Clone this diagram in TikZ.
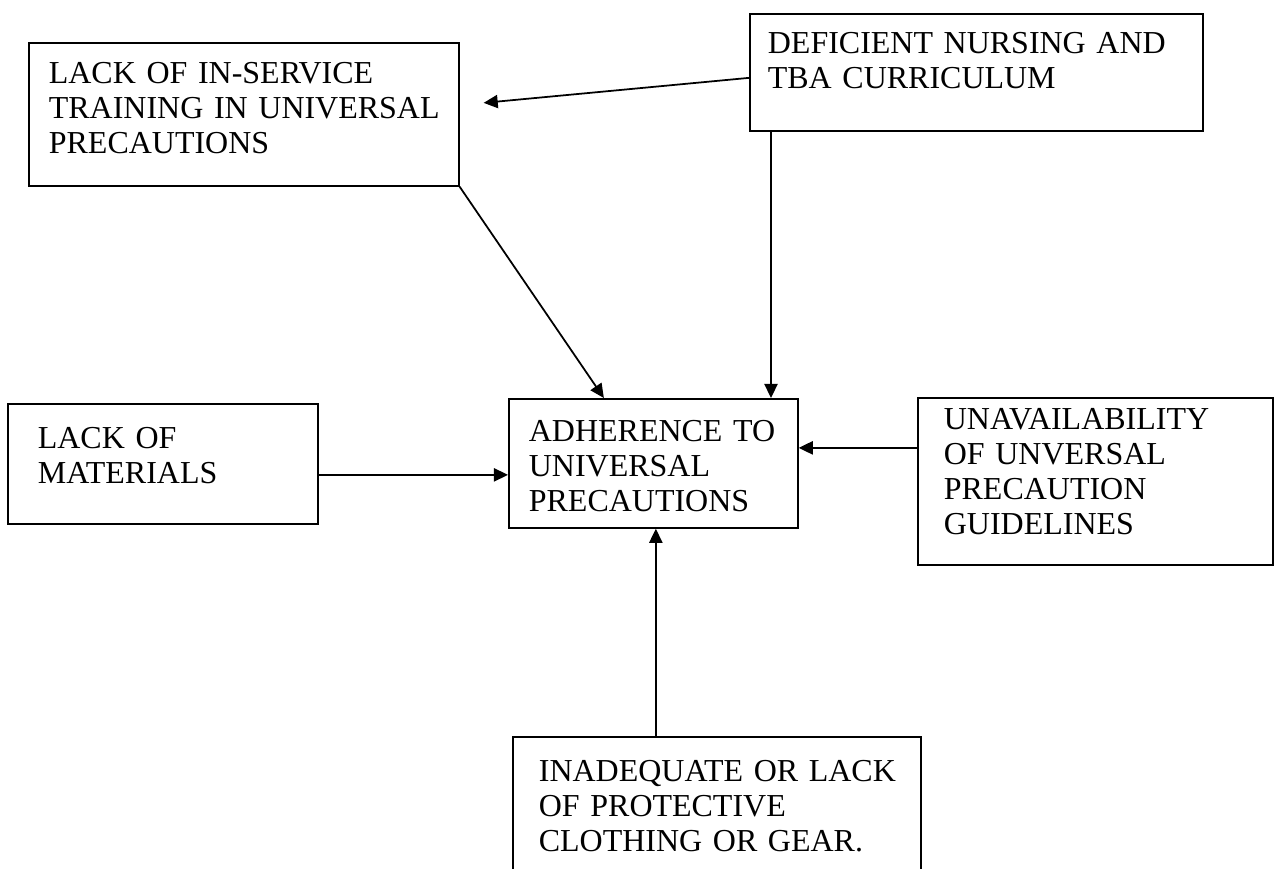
\documentclass[tikz,border=0pt]{standalone}
\usepackage{fontspec}
\setmainfont{Liberation Serif}
\usepackage{tikz}
\usetikzlibrary{calc, positioning}
\usetikzlibrary{arrows.meta}
\tikzset{>=Triangle}
\tikzset{
  box/.style={draw, line width=1pt, anchor=north west, inner ysep=0pt, align=left,
    font=\fontsize{18.2}{19.9}\selectfont},
  link/.style={-{Triangle[length=8pt,width=7.5pt]}, line width=1pt}
}

\begin{document}
\begin{tikzpicture}[x=0.02cm,y=-0.02cm]
	\useasboundingbox (0,0) rectangle (1275,869);
	\clip (0,0) rectangle (1275,869);
	% boxes, placed by their top left corner
	\node[box, inner xsep=0.4cm, text width=7.8cm, text height=0.82cm, text depth=2.04cm] (train) at (28,42)
		{LACK OF IN-SERVICE\\ \mbox{TRAINING IN UNIVERSAL}\\ PRECAUTIONS};
	\node[box, inner xsep=0.36cm, text width=8.34cm, text height=0.8cm, text depth=1.54cm] (curr) at (749,13)
		{DEFICIENT NURSING AND\\ TBA CURRICULUM};
	\node[box, inner xsep=0.6cm, text width=5cm, text height=0.9cm, text depth=1.5cm] (mat) at (7,403)
		{LACK OF\\ MATERIALS};
	\node[box, inner xsep=0.4cm, text width=4.98cm, text height=0.86cm, text depth=1.72cm] (adh) at (508,398)
		{ADHERENCE TO\\ UNIVERSAL\\ PRECAUTIONS};
	\node[box, inner xsep=0.52cm, text width=6.06cm, text height=0.64cm, text depth=2.7cm] (guide) at (917,397)
		{UNAVAILABILITY\\ OF UNVERSAL\\ PRECAUTION\\ GUIDELINES};
	\node[box, inner xsep=0.52cm, text width=7.12cm, text height=0.9cm, text depth=2.3cm] (gear) at (512,736)
		{\mbox{INADEQUATE OR LACK}\\ OF PROTECTIVE\\ CLOTHING OR GEAR.};
	% arrows
	\draw[link] ([yshift=-0.11cm]curr.west) -- ([xshift=0.48cm,yshift=0.23cm]train.east);
	\draw[link] (train.south east) -- ([xshift=-0.99cm]adh.north);
	\draw[link] ([xshift=0.44cm]curr.south west) -- ([xshift=0.44cm]curr.south west |- adh.north);
	\draw[link] ([yshift=-0.22cm]mat.east) -- ([yshift=-0.22cm]mat.east -| adh.west);
	\draw[link] ([yshift=0.67cm]guide.west) -- ([yshift=0.67cm]guide.west -| adh.east);
	\draw[link] ([xshift=-1.22cm]gear.north) -- ([xshift=-1.22cm]gear.north |- adh.south);
\end{tikzpicture}
\end{document}
